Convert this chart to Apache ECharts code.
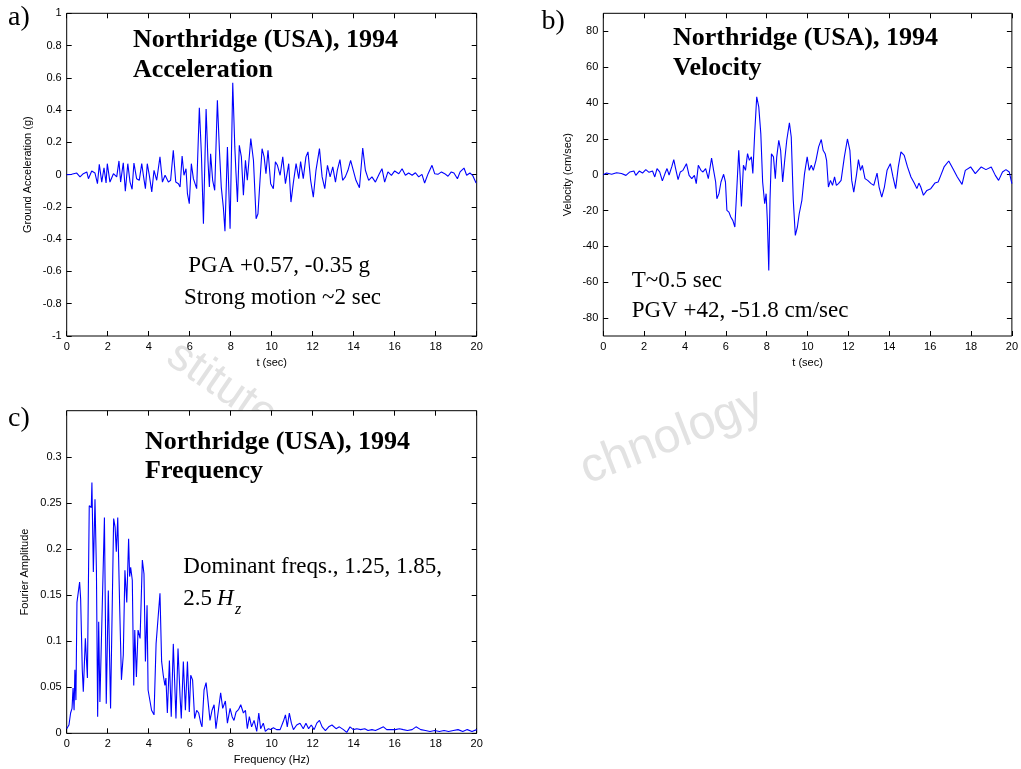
<!DOCTYPE html>
<html>
<head>
<meta charset="utf-8">
<script src="https://cdn.jsdelivr.net/npm/echarts@6/dist/echarts.min.js"></script>
<style>
html,body{margin:0;padding:0;background:#fff;}
#chart{width:1021px;height:769px;}
</style>
</head>
<body>
<div id="chart"></div>
<script>
// ---- Panel a: ground acceleration (g) vs time (s)
const accT = [0,0.08,0.24,0.49,0.65,0.81,0.98,1.06,1.22,1.38,
1.50,1.59,1.71,1.82,1.92,1.98,2.11,2.28,2.44,2.55,
2.63,2.76,2.86,2.98,3.09,3.19,3.28,3.41,3.54,3.66,
3.74,3.84,3.93,4.03,4.15,4.26,4.39,4.55,4.67,4.80,
4.96,5.07,5.20,5.32,5.45,5.53,5.63,5.72,5.82,5.89,
5.98,6.08,6.18,6.34,6.47,6.57,6.67,6.80,6.89,6.96,
7.02,7.12,7.22,7.35,7.45,7.54,7.64,7.72,7.84,7.97,
8.10,8.20,8.26,8.33,8.42,8.52,8.62,8.72,8.81,8.98,
9.11,9.24,9.33,9.43,9.53,9.63,9.72,9.82,9.95,10.08,
10.18,10.28,10.41,10.54,10.67,10.83,10.94,11.06,11.19,11.32,
11.41,11.54,11.67,11.77,11.90,12.03,12.16,12.33,12.46,12.59,
12.72,12.85,12.98,13.11,13.20,13.33,13.46,13.59,13.72,13.85,
13.98,14.11,14.28,14.44,14.57,14.73,14.89,15.06,15.25,15.38,
15.51,15.67,15.84,16.00,16.20,16.36,16.52,16.68,16.85,17.01,
17.17,17.33,17.46,17.63,17.82,17.95,18.11,18.28,18.44,18.60,
18.76,18.89,19.06,19.19,19.38,19.51,19.67,19.80,19.97];
const accV = [0,0.010,0.002,0.010,-0.014,0.006,0.017,-0.025,0.023,0.010,
-0.056,0.064,-0.046,0.043,-0.052,0.068,-0.046,0.006,-0.014,0.085,
-0.046,0.074,-0.103,0.068,-0.046,-0.091,0.072,-0.025,-0.035,0.068,
-0.004,-0.087,0.068,-0.004,-0.107,0.027,-0.035,0.110,-0.046,-0.004,
-0.046,-0.035,0.151,-0.046,-0.056,-0.077,0.116,-0.004,0.037,-0.118,
-0.180,0.068,-0.025,-0.087,0.414,0.130,-0.304,0.407,0.089,-0.077,
0.130,-0.035,-0.097,0.461,0.151,-0.077,-0.201,-0.350,0.172,-0.335,
0.569,0.172,0.006,-0.170,0.182,0.110,-0.128,0.089,-0.035,0.223,
0.089,-0.273,-0.242,-0.035,0.161,0.110,0.006,0.151,-0.056,-0.087,
0.079,0.058,-0.004,0.110,-0.056,0.068,-0.170,-0.046,0.068,-0.025,
0.081,-0.025,0.110,0.141,-0.035,-0.139,0.027,0.161,-0.014,-0.087,
0.058,-0.014,0.048,-0.046,0.027,0.093,-0.035,-0.014,0.027,0.089,
0.027,-0.035,-0.081,0.165,0.027,-0.035,-0.014,-0.046,0.006,0.037,
-0.046,0.017,-0.004,0.023,0.006,0.037,-0.004,0.010,-0.004,0.012,
-0.014,0.002,-0.052,0.006,0.058,0.006,0.002,0.017,0.006,-0.010,
0.017,0.010,-0.025,0.017,0.041,-0.004,0.010,-0.004,-0.052];

// ---- Panel b: velocity (cm/sec) vs time (s)
const velT = [0,0.16,0.41,0.65,0.89,1.11,1.30,1.50,1.59,1.76,
1.92,2.08,2.24,2.41,2.52,2.63,2.76,2.89,3.02,3.12,
3.22,3.35,3.45,3.54,3.66,3.77,3.90,4.07,4.20,4.33,
4.46,4.55,4.65,4.78,4.88,5.01,5.14,5.30,5.40,5.50,
5.56,5.66,5.76,5.89,5.98,6.05,6.15,6.24,6.34,6.44,
6.54,6.63,6.70,6.76,6.86,6.96,7.06,7.15,7.25,7.32,
7.41,7.51,7.61,7.71,7.80,7.90,7.97,8.03,8.10,8.16,
8.23,8.33,8.42,8.49,8.59,8.68,8.78,8.88,8.98,9.11,
9.20,9.30,9.40,9.50,9.59,9.72,9.85,9.98,10.08,10.18,
10.28,10.41,10.54,10.67,10.76,10.86,10.93,11.02,11.12,11.22,
11.32,11.41,11.51,11.64,11.80,11.95,12.07,12.16,12.26,12.39,
12.49,12.59,12.68,12.81,12.94,13.11,13.24,13.40,13.50,13.63,
13.76,13.89,14.05,14.18,14.31,14.44,14.57,14.73,14.89,15.06,
15.22,15.35,15.45,15.54,15.67,15.84,16.03,16.23,16.39,16.52,
16.68,16.91,17.11,17.33,17.56,17.72,17.98,18.21,18.50,18.73,
18.99,19.19,19.35,19.54,19.71,19.87,20.00];
const velV = [0,0.9,0.2,1.1,0.6,-0.4,1.5,2.0,-0.4,2.0,
0.9,2.8,1.3,2.0,-1.3,3.4,1.5,-3.5,0.6,3.4,
-0.2,4.3,8.4,3.4,-2.8,1.5,2.4,6.1,-0.4,-2.2,
-0.4,-5.0,5.2,2.4,1.5,3.4,-2.2,9.3,2.4,-4.1,
-13.4,-10.6,-4.1,0.2,-4.1,-19.9,-20.9,-23.6,-25.5,-29.2,
-6.9,13.6,-1.3,-17.7,5.2,2.4,11.7,8.0,9.9,0.6,
22.9,43.4,37.8,22.9,-4.1,-16.2,-10.6,-25.5,-53.5,-14.3,
11.7,9.9,-2.2,9.9,19.2,13.6,-4.1,8.0,19.2,28.9,
21.0,-14.3,-33.9,-29.2,-21.8,-14.3,0.6,9.9,2.4,5.2,
2.4,8.0,15.5,19.6,13.6,11.7,8.0,-6.9,-3.2,-6.0,
-1.3,-6.0,-5.0,-3.2,9.9,19.9,13.6,-3.2,-9.7,-0.4,
8.4,2.4,5.2,-2.2,-3.2,-5.0,-6.0,0.9,-6.9,-12.5,
-6.9,2.4,6.1,-1.3,-7.8,4.3,12.7,10.8,4.3,-1.3,
-4.7,-7.8,-4.7,-6.9,-11.5,-8.8,-7.8,-4.7,-4.1,-0.4,
4.3,7.6,3.4,-1.3,-5.4,2.4,4.3,0.6,4.3,2.8,
4.3,-0.4,-3.2,1.5,2.8,1.5,-5.0];

// ---- Panel c: Fourier amplitude vs frequency (Hz)
const fftF = [0.00,0.11,0.19,0.26,0.31,0.36,0.40,0.45,0.50,0.58,
0.63,0.68,0.76,0.81,0.91,1.01,1.10,1.20,1.23,1.30,
1.38,1.45,1.51,1.56,1.62,1.84,1.93,2.03,2.14,2.29,
2.36,2.42,2.49,2.58,2.67,2.76,2.84,2.93,3.02,3.07,
3.12,3.20,3.27,3.32,3.40,3.48,3.58,3.69,3.77,3.84,
3.92,3.97,4.05,4.14,4.26,4.36,4.45,4.55,4.63,4.71,
4.79,4.84,4.91,5.01,5.10,5.20,5.33,5.43,5.53,5.59,
5.69,5.79,5.89,5.98,6.05,6.14,6.24,6.34,6.44,6.54,
6.60,6.70,6.80,6.89,6.99,7.09,7.19,7.28,7.40,7.51,
7.61,7.74,7.84,7.97,8.07,8.16,8.26,8.39,8.49,8.62,
8.72,8.81,8.91,9.02,9.14,9.27,9.37,9.46,9.59,9.69,
9.84,9.95,10.08,10.24,10.41,10.57,10.67,10.76,10.86,10.96,
11.06,11.22,11.38,11.54,11.67,11.80,11.93,12.07,12.20,12.33,
12.46,12.62,12.78,12.94,13.14,13.30,13.50,13.66,13.82,13.98,
14.15,14.34,14.54,14.70,14.89,15.06,15.25,15.45,15.61,15.80,
16.03,16.23,16.42,16.62,16.85,17.04,17.27,17.50,17.72,17.95,
18.18,18.41,18.63,18.86,19.09,19.32,19.54,19.77,20.00];
const fftA = [0.005,0.009,0.022,0.027,0.049,0.025,0.069,0.036,0.142,0.144,
0.164,0.146,0.069,0.045,0.103,0.060,0.247,0.245,0.272,0.175,
0.254,0.177,0.018,0.121,0.034,0.234,0.032,0.155,0.027,0.233,
0.224,0.197,0.234,0.141,0.058,0.085,0.177,0.142,0.211,0.170,
0.180,0.166,0.052,0.112,0.061,0.112,0.103,0.188,0.173,0.078,
0.139,0.047,0.047,0.025,0.020,0.097,0.099,0.152,0.078,0.063,
0.052,0.060,0.022,0.079,0.018,0.097,0.016,0.092,0.040,0.016,
0.078,0.025,0.078,0.023,0.063,0.058,0.016,0.025,0.022,0.011,
0.007,0.047,0.055,0.036,0.014,0.025,0.031,0.005,0.025,0.044,
0.027,0.035,0.011,0.027,0.018,0.014,0.023,0.026,0.031,0.022,
0.025,0.005,0.018,0.007,0.014,0.002,0.022,0.005,0.011,0.002,
0.005,0.004,0.006,0.004,0.004,0.013,0.020,0.007,0.022,0.011,
0.004,0.009,0.011,0.005,0.011,0.005,0.009,0.004,0.011,0.014,
0.007,0.003,0.007,0.009,0.005,0.007,0.004,0.001,0.007,0.004,
0.005,0.004,0.005,0.003,0.004,0.003,0.005,0.007,0.004,0.004,
0.004,0.005,0.004,0.003,0.004,0.007,0.004,0.003,0.002,0.003,
0.002,0.003,0.002,0.003,0.004,0.002,0.004,0.002,0.004];

// ---- tick values
const timeTicks = [0,2,4,6,8,10,12,14,16,18,20];
const accTicks = [-1,-0.8,-0.6,-0.4,-0.2,0,0.2,0.4,0.6,0.8,1];
const velTicks = [-80,-60,-40,-20,0,20,40,60,80];
const fftTicks = [0,0.05,0.1,0.15,0.2,0.25,0.3];

// ---- texts
const titleLine1 = 'Northridge (USA), 1994';
const panelTitles = ['Acceleration','Velocity','Frequency'];
const panelLetters = ['a)','b)','c)'];
const accNotes = ['PGA +0.57, -0.35 g','Strong motion ~2 sec'];
const velNotes = ['T~0.5 sec','PGV +42, -51.8 cm/sec'];
const fftNotes = ['Dominant freqs., 1.25, 1.85,','2.5 '];
const watermarkWords = ['stitute','chnology'];

const zip = (a,b) => a.map((v,i)=>[v,b[i]]);

const SANS = '"Liberation Sans", Arial, sans-serif';
const SERIF = '"Liberation Serif", "Times New Roman", serif';

const grids = [
  {left:66.7, top:13.3, width:410, height:322.7},
  {left:603.3, top:13.3, width:410, height:322.7},
  {left:66.7, top:410.7, width:410, height:322.6}
];

function xAx(gi, name, gap){
  const base = {
    gridIndex: gi, type:'value', min:0, max:20,
    axisLine:{show:false, onZero:false}, splitLine:{show:false},
    axisTick:{show:true, inside:true, length:5, customValues:timeTicks, lineStyle:{color:'#000', width:1}}
  };
  return [
    Object.assign({}, base, {
      position:'bottom', name:name, nameLocation:'middle', nameGap:gap,
      nameTextStyle:{fontFamily:SANS, fontSize:11, color:'#000'},
      axisLabel:{show:true, margin:5, customValues:timeTicks, fontFamily:SANS, fontSize:11, color:'#000'}
    }),
    Object.assign({}, base, {position:'top', axisLabel:{show:false}})
  ];
}
function yAx(gi, min, max, ticks, name, gap){
  const base = {
    gridIndex: gi, type:'value', min:min, max:max,
    axisLine:{show:false, onZero:false}, splitLine:{show:false},
    axisTick:{show:true, inside:true, length:5, customValues:ticks, lineStyle:{color:'#000', width:1}}
  };
  return [
    Object.assign({}, base, {
      position:'left', name:name, nameLocation:'middle', nameGap:gap,
      nameTextStyle:{fontFamily:SANS, fontSize:11, color:'#000'},
      axisLabel:{show:true, margin:5, customValues:ticks, fontFamily:SANS, fontSize:11, color:'#000'}
    }),
    Object.assign({}, base, {position:'right', axisLabel:{show:false}})
  ];
}

function txt(x, y, text, font, extra){
  return Object.assign({
    type:'text', x:x, y:y, z:100,
    style:{text:text, font:font, fill:'#000', align:'left', verticalAlign:'middle'}
  }, extra||{});
}

const titleFont = 'bold 26px ' + SERIF;
const noteFont = '23px ' + SERIF;
const letterFont = '28px ' + SERIF;

const graphics = [
  // faint background watermark (behind the plot boxes)
  {type:'text', x:222, y:386, rotation:-0.6, z:-10,
   style:{text:watermarkWords[0], font:'46px ' + SANS, fill:'#e2e2e2', align:'center', verticalAlign:'middle'}},
  {type:'text', x:672, y:437, rotation:0.37, z:-10,
   style:{text:watermarkWords[1], font:'48px ' + SANS, fill:'#e2e2e2', align:'center', verticalAlign:'middle'}},
  txt(8, 17.5, panelLetters[0], letterFont),
  txt(541.5, 22, panelLetters[1], letterFont),
  txt(8, 419, panelLetters[2], letterFont),
  txt(133, 40.5, titleLine1, titleFont),
  txt(133, 70.2, panelTitles[0], titleFont),
  txt(673, 38.5, titleLine1, titleFont),
  txt(673, 67.9, panelTitles[1], titleFont),
  txt(145, 442.2, titleLine1, titleFont),
  txt(145, 471.2, panelTitles[2], titleFont),
  txt(188.3, 266.2, accNotes[0], noteFont),
  txt(184, 298.2, accNotes[1], noteFont),
  txt(631.7, 280.5, velNotes[0], noteFont),
  txt(631.7, 311.2, velNotes[1], noteFont),
  txt(183.3, 566.5, fftNotes[0], noteFont),
  txt(183.3, 598.9, fftNotes[1], noteFont),
  txt(217, 598.9, 'H', 'italic 23px ' + SERIF),
  txt(235, 610, 'z', 'italic 16px ' + SERIF)
];

const chart = echarts.init(document.getElementById('chart'), null, {renderer:'canvas'});
chart.setOption({
  animation:false,
  backgroundColor:'#fff',
  grid: grids.map(g => Object.assign({show:true, borderColor:'#000', borderWidth:1, backgroundColor:'#fff', z:0}, g)),
  xAxis: [].concat(xAx(0,'t (sec)',21), xAx(1,'t (sec)',21), xAx(2,'Frequency (Hz)',21)),
  yAxis: [].concat(
    yAx(0,-1,1,accTicks,'Ground Acceleration (g)',33),
    yAx(1,-90,90,velTicks,'Velocity (cm/sec)',30),
    yAx(2,0,0.35,fftTicks,'Fourier Amplitude',36)
  ),
  series: [
    {type:'line', xAxisIndex:0, yAxisIndex:0, data:zip(accT,accV), showSymbol:false, symbol:'none', lineStyle:{color:'#0000ff', width:1.1}, z:3},
    {type:'line', xAxisIndex:2, yAxisIndex:2, data:zip(velT,velV), showSymbol:false, symbol:'none', lineStyle:{color:'#0000ff', width:1.1}, z:3},
    {type:'line', xAxisIndex:4, yAxisIndex:4, data:zip(fftF,fftA), showSymbol:false, symbol:'none', lineStyle:{color:'#0000ff', width:1.1}, z:3}
  ],
  graphic: {elements: graphics}
});
</script>
</body>
</html>
